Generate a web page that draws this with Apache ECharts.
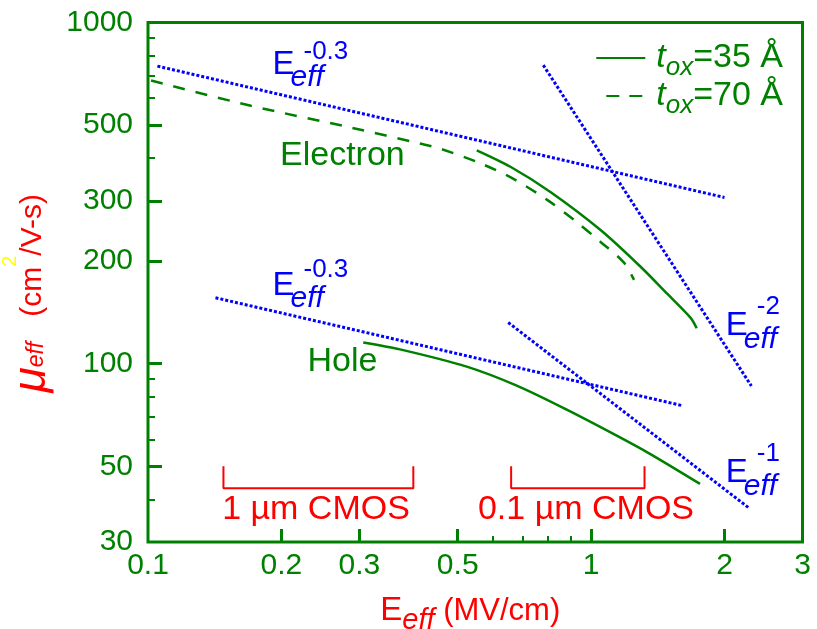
<!DOCTYPE html>
<html><head><meta charset="utf-8">
<script src="https://cdn.jsdelivr.net/npm/echarts@6/dist/echarts.min.js"></script>
<style>html,body{margin:0;padding:0;background:#fff}#c{width:817px;height:629px}</style>
</head><body><div id="c"></div>
<script>
// ---- data ----
const xTickValues = [0.1, 0.2, 0.3, 0.5, 1, 2, 3];
const xTickLabels = ['0.1', '0.2', '0.3', '0.5', '1', '2', '3'];
const xMajorTicks = [0.2, 0.3, 0.5, 1, 2];
const xMinorTicks = [0.6, 0.7, 0.8, 0.9];
const yTickValues = [30, 50, 100, 200, 300, 500, 1000];
const yTickLabels = ['30', '50', '100', '200', '300', '500', '1000'];
const yMajorTicks = [50, 100, 200, 300, 500];
const yMinorTicks = [40, 60, 70, 80, 90, 400, 600, 700, 800, 900];

const electron35E  = [0.552, 0.659, 0.811, 1.052, 1.295, 1.487, 1.679, 1.731];
const electron35Mu = [422, 377, 318, 246, 192, 160, 136, 127];
const electron70E  = [0.1016, 0.1707, 0.287, 0.413, 0.458, 0.564, 0.668, 0.799, 0.928, 1.052, 1.185, 1.25];
const electron70Mu = [676, 570, 492, 441, 426, 386, 348, 301, 260, 227, 198, 176];
const hole35E  = [0.306, 0.3704, 0.5239, 0.6795, 0.881, 1.1424, 1.3578, 1.7614];
const hole35Mu = [115.4, 110.1, 98.0, 86.2, 73.3, 61.5, 54.4, 44.4];

const elecPow03E = [0.105, 2.0];   const elecPow03Mu = [745, 307];
const elecPow2E  = [0.78, 2.3];    const elecPow2Mu  = [750, 86];
const holePow03E = [0.142, 1.6];   const holePow03Mu = [156, 75.4];
const holePow1E  = [0.65, 2.28];   const holePow1Mu  = [132, 37.6];

const cmos1E  = [0.148, 0.148, 0.397, 0.397]; const cmos1Mu  = [50, 43.1, 43.1, 50];
const cmos01E = [0.66, 0.66, 1.32, 1.32];     const cmos01Mu = [50, 43.1, 43.1, 50];

// ---- styling ----
const GREEN = '#008000', RED = '#ff0000', BLUE = '#0000ff', YELLOW = '#ffff00';
const FF = '"Liberation Sans", Arial, Helvetica, sans-serif';
const zip = (a, b) => a.map((v, i) => [v, b[i]]);
const fmt = (vals, labels) => v => {
  for (let i = 0; i < vals.length; i++) {
    if (Math.abs(v - vals[i]) < 1e-6 * vals[i]) return labels[i];
  }
  return '';
};

function lineSeries(name, xs, ys, color, type, width, smooth) {
  return {
    type: 'line', name, data: zip(xs, ys), symbol: 'none', smooth: smooth || false,
    lineStyle: { color, width, type }, itemStyle: { color }, silent: true, z: 3
  };
}

const chart = echarts.init(document.getElementById('c'));

function effLabel(x, yE, yEff, ySup, sup) {
  return [
    { type: 'text', x: x, y: yE, style: { text: 'E', fontSize: 33, fontFamily: FF, fill: BLUE, align: 'left', verticalAlign: 'middle' } },
    { type: 'text', x: x + 18, y: yEff, style: { text: 'eff', fontSize: 30, fontStyle: 'italic', fontFamily: FF, fill: BLUE, align: 'left', verticalAlign: 'middle' } },
    { type: 'text', x: x + 31, y: ySup, style: { text: sup, fontSize: 26, fontFamily: FF, fill: BLUE, align: 'left', verticalAlign: 'middle' } }
  ];
}
function plainText(text, x, y, size, color, align) {
  return { type: 'text', x, y, style: { text, fontSize: size, fontFamily: FF, fill: color, align: align || 'left', verticalAlign: 'middle' } };
}

const option = {
  animation: false,
  backgroundColor: '#fff',
  grid: { left: 148, top: 22.5, right: 14.5, bottom: 87, containLabel: false, outerBoundsMode: 'none',
          show: true, borderColor: GREEN, borderWidth: 3, backgroundColor: 'transparent' },
  xAxis: [{
    type: 'log', logBase: 10, min: 0.1, max: 3, position: 'bottom',
    axisLine: { show: false },
    axisTick: { show: true, inside: true, length: 13, customValues: xMajorTicks, lineStyle: { color: GREEN, width: 3 } },
    axisLabel: { customValues: xTickValues, formatter: fmt(xTickValues, xTickLabels), color: GREEN, fontSize: 30, fontFamily: FF, margin: 9, showMinLabel: true, showMaxLabel: true },
    splitLine: { show: false }, minorTick: { show: false }, minorSplitLine: { show: false },
    name: '{E|E}{eff|eff}{n| (MV/cm)}', nameLocation: 'middle', nameGap: 45,
    nameTextStyle: { rich: {
      E: { fontSize: 33, color: RED, fontFamily: FF },
      eff: { fontSize: 29, fontStyle: 'italic', color: RED, fontFamily: FF, padding: [19, 0, 0, 0] },
      n: { fontSize: 31, color: RED, fontFamily: FF, padding: [0, 10, 0, 0] }
    } }
  }, {
    type: 'log', logBase: 10, min: 0.1, max: 3, position: 'bottom',
    axisLine: { show: false },
    axisTick: { show: true, inside: true, length: 6, customValues: xMinorTicks, lineStyle: { color: GREEN, width: 2 } },
    axisLabel: { show: false }, splitLine: { show: false }
  }],
  yAxis: [{
    type: 'log', logBase: 10, min: 30, max: 1000, position: 'left',
    axisLine: { show: false },
    axisTick: { show: true, inside: true, length: 14, customValues: yMajorTicks, lineStyle: { color: GREEN, width: 3 } },
    axisLabel: { customValues: yTickValues, formatter: fmt(yTickValues, yTickLabels), color: GREEN, fontSize: 30, fontFamily: FF, margin: 15, showMinLabel: true, showMaxLabel: true },
    splitLine: { show: false }, minorTick: { show: false }, minorSplitLine: { show: false },
    name: '{mu|μ}{eff|eff}{sp|   }{n|(cm}{two|2}{m|/V-s)}', nameLocation: 'middle', nameRotate: 90, nameGap: 69,
    nameTextStyle: { rich: {
      mu: { fontSize: 46, fontStyle: 'italic', color: RED, fontFamily: FF },
      eff: { fontSize: 23, fontStyle: 'italic', color: RED, fontFamily: FF, padding: [8, 0, 0, 0] },
      sp: { fontSize: 30, color: RED, fontFamily: FF },
      n: { fontSize: 30, color: RED, fontFamily: FF },
      m: { fontSize: 30, color: RED, fontFamily: FF, padding: [0, 22, 0, 0] },
      two: { fontSize: 20, color: YELLOW, fontFamily: FF, padding: [0, 0, 43, 0] }
    } }
  }, {
    type: 'log', logBase: 10, min: 30, max: 1000, position: 'left',
    axisLine: { show: false },
    axisTick: { show: true, inside: true, length: 7, customValues: yMinorTicks, lineStyle: { color: GREEN, width: 2 } },
    axisLabel: { show: false }, splitLine: { show: false }
  }],
  legend: {
    orient: 'vertical', right: 34, top: 35, padding: 0, itemGap: -8, itemWidth: 49, itemHeight: 14,
    selectedMode: false, align: 'left',
    itemStyle: { opacity: 0 },
    data: [
      { name: '35 Å' },
      { name: '70 Å', lineStyle: { type: [13, 10], dashOffset: 13 } }
    ],
    formatter: name => '{t|t}{ox|ox}{n|=' + name + '}',
    textStyle: { color: GREEN, rich: {
      t: { fontSize: 34, fontStyle: 'italic', color: GREEN, fontFamily: FF, lineHeight: 32, padding: [0, 0, 0, 6] },
      ox: { fontSize: 26, fontStyle: 'italic', color: GREEN, fontFamily: FF, lineHeight: 14, padding: [20, 0, 0, 0] },
      n: { fontSize: 34, color: GREEN, fontFamily: FF, lineHeight: 32 }
    } }
  },
  series: [
    lineSeries('35 Å', electron35E, electron35Mu, GREEN, 'solid', 2.5, 0.3),
    lineSeries('70 Å', electron70E, electron70Mu, GREEN, [12, 11], 2.5, 0.3),
    lineSeries('35 Å', hole35E, hole35Mu, GREEN, 'solid', 2.5, 0.3),
    lineSeries('E-0.3 electron', elecPow03E, elecPow03Mu, BLUE, [3, 2], 3),
    lineSeries('E-2 electron', elecPow2E, elecPow2Mu, BLUE, [3, 2], 3),
    lineSeries('E-0.3 hole', holePow03E, holePow03Mu, BLUE, [3, 2], 3),
    lineSeries('E-1 hole', holePow1E, holePow1Mu, BLUE, [3, 2], 3),
    lineSeries('1 um CMOS', cmos1E, cmos1Mu, RED, 'solid', 2),
    lineSeries('0.1 um CMOS', cmos01E, cmos01Mu, RED, 'solid', 2)
  ],
  graphic: { elements: [
    plainText('Electron', 280, 156, 34, GREEN),
    plainText('Hole', 307.5, 362, 34, GREEN),
    plainText('1 µm CMOS', 316, 509.5, 34, RED, 'center'),
    plainText('0.1 µm CMOS', 586, 509.5, 34, RED, 'center'),
    ...effLabel(272.5, 65.1, 78, 51.4, '-0.3'),
    ...effLabel(272.5, 286.4, 298.3, 269.7, '-0.3'),
    ...effLabel(725.8, 326.4, 340, 306.4, '-2'),
    ...effLabel(725.8, 473.1, 486.7, 454.1, '-1')
  ] }
};
chart.setOption(option);
</script></body></html>
